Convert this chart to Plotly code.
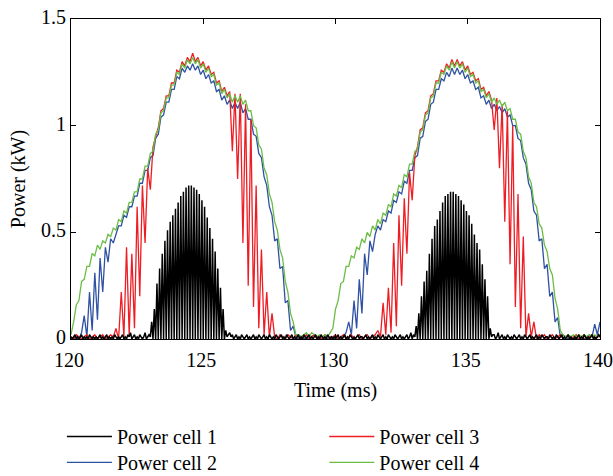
import numpy as np
import plotly.graph_objects as go

# Sampling clocks (ms)
time_ms = np.round(np.linspace(120.0, 140.0, 201), 2)        # 0.1 ms samples for cells 2-4
time_fine_ms = np.round(np.linspace(120.0, 140.0, 401), 2)   # 0.05 ms samples for cell 1

series_names = ["Power cell 1", "Power cell 2", "Power cell 3", "Power cell 4"]
x_ticks = [120, 125, 130, 135, 140]
y_ticks = [0, 0.5, 1, 1.5]
y_tick_labels = ["0", "0.5", "1", "1.5"]

# Power cell 1 (kW), 0.05 ms samples, one row per ms
cell1_kw = [
    0.01,0.00,0.01,0.02,0.00,0.01,0.00,0.01,0.02,0.00,0.01,0.00,0.01,0.00,0.02,0.01,0.00,0.01,0.00,0.01,  # 120
    0.00,0.01,0.02,0.00,0.01,0.00,0.01,0.02,0.00,0.01,0.00,0.01,0.00,0.02,0.01,0.00,0.01,0.00,0.01,0.02,  # 121
    0.00,0.01,0.00,0.02,0.01,0.03,0.00,0.01,0.02,0.00,0.01,0.00,0.02,0.01,0.00,0.01,0.03,0.00,0.01,0.02,  # 122
    0.01,0.08,0.00,0.14,0.00,0.26,0.00,0.33,0.00,0.40,0.00,0.46,0.00,0.51,0.00,0.55,0.00,0.58,0.00,0.61,  # 123
    0.00,0.64,0.00,0.67,0.00,0.69,0.00,0.71,0.00,0.72,0.00,0.72,0.00,0.71,0.00,0.70,0.00,0.68,0.00,0.65,  # 124
    0.00,0.62,0.00,0.57,0.00,0.52,0.00,0.47,0.00,0.41,0.00,0.33,0.00,0.24,0.00,0.14,0.00,0.04,0.01,0.02,  # 125
    0.03,0.01,0.02,0.00,0.01,0.02,0.00,0.01,0.00,0.02,0.01,0.00,0.01,0.02,0.00,0.01,0.00,0.01,0.02,0.00,  # 126
    0.01,0.00,0.02,0.01,0.00,0.01,0.02,0.00,0.01,0.00,0.02,0.01,0.00,0.01,0.00,0.02,0.01,0.00,0.01,0.02,  # 127
    0.00,0.01,0.00,0.02,0.01,0.00,0.01,0.02,0.00,0.01,0.00,0.01,0.02,0.00,0.01,0.00,0.02,0.01,0.00,0.01,  # 128
    0.02,0.00,0.01,0.00,0.01,0.02,0.00,0.01,0.00,0.02,0.01,0.00,0.01,0.00,0.02,0.01,0.00,0.01,0.00,0.01,  # 129
    0.00,0.01,0.02,0.00,0.01,0.00,0.01,0.02,0.00,0.01,0.00,0.02,0.01,0.00,0.01,0.00,0.01,0.02,0.00,0.01,  # 130
    0.01,0.00,0.01,0.02,0.00,0.01,0.00,0.01,0.02,0.00,0.01,0.00,0.02,0.01,0.00,0.01,0.02,0.00,0.01,0.00,  # 131
    0.02,0.01,0.00,0.01,0.00,0.02,0.01,0.00,0.01,0.02,0.00,0.01,0.00,0.01,0.02,0.00,0.01,0.03,0.00,0.02,  # 132
    0.01,0.06,0.00,0.12,0.00,0.20,0.00,0.27,0.00,0.32,0.00,0.40,0.00,0.47,0.00,0.53,0.00,0.56,0.00,0.60,  # 133
    0.00,0.64,0.00,0.67,0.00,0.68,0.00,0.69,0.00,0.69,0.00,0.68,0.00,0.67,0.00,0.65,0.00,0.63,0.00,0.60,  # 134
    0.00,0.58,0.00,0.54,0.00,0.49,0.00,0.45,0.00,0.42,0.00,0.35,0.00,0.28,0.00,0.20,0.00,0.05,0.01,0.02,  # 135
    0.02,0.00,0.01,0.03,0.00,0.01,0.02,0.00,0.01,0.00,0.02,0.01,0.00,0.01,0.00,0.02,0.01,0.00,0.01,0.02,  # 136
    0.00,0.01,0.00,0.02,0.01,0.00,0.01,0.02,0.00,0.01,0.00,0.01,0.02,0.00,0.01,0.00,0.02,0.01,0.00,0.01,  # 137
    0.01,0.00,0.02,0.01,0.00,0.01,0.00,0.02,0.01,0.00,0.01,0.02,0.00,0.01,0.00,0.01,0.02,0.00,0.01,0.00,  # 138
    0.00,0.01,0.00,0.01,0.02,0.00,0.01,0.00,0.02,0.01,0.00,0.01,0.00,0.01,0.02,0.00,0.01,0.00,0.01,0.02,  # 139
    0.01,
]

# Power cell 2 (kW), 0.1 ms samples
cell2_kw = [
    0.01, 0.00, 0.01, 0.00, 0.03, 0.11, 0.01, 0.22, 0.04, 0.31,  # 120
    0.09, 0.38, 0.22, 0.43, 0.36, 0.47, 0.45, 0.49, 0.53, 0.53,  # 121
    0.58, 0.57, 0.62, 0.62, 0.67, 0.67, 0.73, 0.73, 0.79, 0.79,  # 122
    0.85, 0.86, 0.94, 0.96, 1.04, 1.05, 1.11, 1.11, 1.17, 1.17,  # 123
    1.23, 1.22, 1.27, 1.25, 1.28, 1.26, 1.29, 1.26, 1.28, 1.24,  # 124
    1.26, 1.22, 1.24, 1.20, 1.21, 1.16, 1.17, 1.12, 1.14, 1.10,  # 125
    1.12, 1.08, 1.11, 1.08, 1.11, 1.06, 1.08, 1.03, 1.03, 0.96,  # 126
    0.95, 0.87, 0.85, 0.76, 0.72, 0.62, 0.58, 0.46, 0.47, 0.33,  # 127
    0.34, 0.17, 0.18, 0.04, 0.06, 0.01, 0.00, 0.01, 0.00, 0.01,  # 128
    0.00, 0.01, 0.02, 0.00, 0.01, 0.00, 0.01, 0.00, 0.01, 0.01,  # 129
    0.01, 0.00, 0.01, 0.01, 0.03, 0.08, 0.02, 0.18, 0.05, 0.28,  # 130
    0.12, 0.40, 0.30, 0.46, 0.41, 0.49, 0.53, 0.51, 0.56, 0.55,  # 131
    0.60, 0.59, 0.65, 0.64, 0.69, 0.68, 0.74, 0.73, 0.79, 0.79,  # 132
    0.85, 0.86, 0.94, 0.95, 1.02, 1.03, 1.10, 1.11, 1.17, 1.17,  # 133
    1.22, 1.21, 1.25, 1.23, 1.27, 1.24, 1.27, 1.24, 1.26, 1.22,  # 134
    1.24, 1.20, 1.21, 1.17, 1.18, 1.13, 1.14, 1.10, 1.12, 1.08,  # 135
    1.10, 1.07, 1.09, 1.06, 1.08, 1.04, 1.05, 1.00, 1.00, 0.94,  # 136
    0.93, 0.85, 0.82, 0.73, 0.70, 0.60, 0.58, 0.46, 0.47, 0.33,  # 137
    0.35, 0.20, 0.22, 0.08, 0.10, 0.01, 0.02, 0.01, 0.00, 0.01,  # 138
    0.00, 0.01, 0.00, 0.01, 0.00, 0.01, 0.02, 0.01, 0.07, 0.02,  # 139
    0.08,
]

# Power cell 3 (kW), 0.1 ms samples
cell3_kw = [
    0.01, 0.00, 0.02, 0.01, 0.00, 0.01, 0.02, 0.00, 0.01, 0.02,  # 120
    0.00, 0.01, 0.02, 0.00, 0.01, 0.02, 0.01, 0.05, 0.00, 0.22,  # 121
    0.01, 0.43, 0.02, 0.40, 0.05, 0.62, 0.20, 0.72, 0.45, 0.80,  # 122
    0.70, 0.90, 0.95, 0.99, 1.07, 1.08, 1.14, 1.14, 1.20, 1.20,  # 123
    1.26, 1.25, 1.30, 1.28, 1.32, 1.30, 1.34, 1.30, 1.32, 1.28,  # 124
    1.30, 1.26, 1.28, 1.24, 1.25, 1.20, 1.21, 1.16, 1.18, 1.14,  # 125
    1.16, 0.88, 1.15, 0.75, 1.15, 0.45, 1.10, 0.25, 1.03, 0.15,  # 126
    0.72, 0.05, 0.42, 0.02, 0.22, 0.01, 0.12, 0.01, 0.00, 0.02,  # 127
    0.01, 0.00, 0.02, 0.01, 0.00, 0.02, 0.01, 0.00, 0.01, 0.02,  # 128
    0.00, 0.01, 0.02, 0.00, 0.01, 0.00, 0.02, 0.01, 0.00, 0.01,  # 129
    0.02, 0.00, 0.01, 0.02, 0.00, 0.01, 0.02, 0.00, 0.01, 0.02,  # 130
    0.00, 0.01, 0.02, 0.00, 0.01, 0.02, 0.04, 0.01, 0.17, 0.02,  # 131
    0.24, 0.03, 0.45, 0.06, 0.58, 0.25, 0.66, 0.40, 0.78, 0.65,  # 132
    0.86, 0.90, 0.98, 0.99, 1.06, 1.07, 1.14, 1.15, 1.21, 1.21,  # 133
    1.26, 1.25, 1.29, 1.27, 1.31, 1.28, 1.31, 1.28, 1.30, 1.26,  # 134
    1.28, 1.24, 1.25, 1.21, 1.22, 1.17, 1.18, 1.14, 1.16, 1.12,  # 135
    0.98, 1.13, 0.80, 1.10, 0.55, 1.07, 0.35, 1.00, 0.15, 0.68,  # 136
    0.05, 0.48, 0.01, 0.12, 0.01, 0.08, 0.00, 0.02, 0.01, 0.02,  # 137
    0.00, 0.01, 0.02, 0.00, 0.01, 0.02, 0.00, 0.01, 0.02, 0.00,  # 138
    0.01, 0.02, 0.00, 0.01, 0.02, 0.00, 0.01, 0.02, 0.00, 0.01,  # 139
    0.01,
]

# Power cell 4 (kW), 0.1 ms samples
cell4_kw = [
    0.02, 0.08, 0.16, 0.18, 0.27, 0.28, 0.34, 0.34, 0.40, 0.39,  # 120
    0.44, 0.42, 0.46, 0.45, 0.49, 0.48, 0.52, 0.51, 0.56, 0.55,  # 121
    0.60, 0.59, 0.64, 0.64, 0.69, 0.69, 0.75, 0.75, 0.81, 0.81,  # 122
    0.87, 0.88, 0.96, 0.98, 1.06, 1.07, 1.13, 1.13, 1.19, 1.19,  # 123
    1.25, 1.24, 1.29, 1.27, 1.31, 1.29, 1.32, 1.29, 1.31, 1.27,  # 124
    1.29, 1.25, 1.27, 1.23, 1.24, 1.19, 1.20, 1.15, 1.17, 1.13,  # 125
    1.15, 1.11, 1.14, 1.11, 1.14, 1.10, 1.12, 1.07, 1.07, 1.00,  # 126
    0.99, 0.91, 0.89, 0.80, 0.77, 0.68, 0.64, 0.55, 0.51, 0.42,  # 127
    0.38, 0.27, 0.22, 0.12, 0.08, 0.02, 0.02, 0.01, 0.02, 0.03,  # 128
    0.01, 0.03, 0.02, 0.01, 0.02, 0.01, 0.02, 0.01, 0.03, 0.05,  # 129
    0.14, 0.18, 0.26, 0.27, 0.34, 0.34, 0.39, 0.38, 0.43, 0.42,  # 130
    0.47, 0.45, 0.50, 0.48, 0.53, 0.51, 0.56, 0.54, 0.59, 0.58,  # 131
    0.63, 0.62, 0.68, 0.67, 0.72, 0.71, 0.77, 0.76, 0.82, 0.82,  # 132
    0.88, 0.89, 0.97, 0.98, 1.05, 1.06, 1.13, 1.14, 1.20, 1.20,  # 133
    1.25, 1.24, 1.28, 1.26, 1.30, 1.27, 1.30, 1.27, 1.29, 1.25,  # 134
    1.27, 1.23, 1.24, 1.20, 1.21, 1.16, 1.17, 1.13, 1.15, 1.11,  # 135
    1.13, 1.10, 1.12, 1.09, 1.11, 1.07, 1.08, 1.03, 1.03, 0.97,  # 136
    0.96, 0.88, 0.85, 0.76, 0.73, 0.64, 0.62, 0.54, 0.52, 0.44,  # 137
    0.41, 0.33, 0.30, 0.19, 0.14, 0.04, 0.02, 0.01, 0.02, 0.01,  # 138
    0.02, 0.01, 0.02, 0.01, 0.02, 0.01, 0.02, 0.01, 0.02, 0.01,  # 139
    0.02,
]

assert len(cell1_kw) == len(time_fine_ms), len(cell1_kw)
for s in (cell2_kw, cell3_kw, cell4_kw):
    assert len(s) == len(time_ms), len(s)

colors = {"Power cell 1": "#000000", "Power cell 2": "#2f51a3",
          "Power cell 3": "#ee1d24", "Power cell 4": "#6bbd45"}
widths = {"Power cell 1": 1.5, "Power cell 2": 1.3, "Power cell 3": 1.3, "Power cell 4": 1.3}
# one single-entry legend per item, laid out as a 2x2 block
legend_of = {"Power cell 1": "legend", "Power cell 2": "legend2",
             "Power cell 3": "legend3", "Power cell 4": "legend4"}
series = {
    "Power cell 1": (time_fine_ms, cell1_kw),
    "Power cell 2": (time_ms, cell2_kw),
    "Power cell 3": (time_ms, cell3_kw),
    "Power cell 4": (time_ms, cell4_kw),
}

fig = go.Figure()
for name in ["Power cell 2", "Power cell 3", "Power cell 4", "Power cell 1"]:
    t, p = series[name]
    fig.add_trace(go.Scatter(
        x=t, y=p, mode="lines", name=name, legend=legend_of[name],
        line=dict(color=colors[name], width=widths[name]),
    ))

axis_common = dict(showline=True, linecolor="black", linewidth=1, mirror="ticks",
                   ticks="inside", ticklen=5, tickcolor="black", showgrid=False,
                   zeroline=False, automargin=False,
                   tickfont=dict(family="Liberation Serif", size=20, color="black"))

legend_common = dict(orientation="h", xref="container", yref="container",
                     xanchor="left", yanchor="top", itemwidth=45,
                     bgcolor="rgba(0,0,0,0)",
                     font=dict(family="Liberation Serif", size=20, color="black"))

col1_x, col2_x = 0.101, 0.529
row1_y, row2_y = 0.124, 0.0694

fig.update_layout(
    width=613, height=476,
    margin=dict(l=71, r=13, t=19, b=137),
    paper_bgcolor="white", plot_bgcolor="white",
    font=dict(family="Liberation Serif", size=20, color="black"),
    xaxis=dict(range=[120, 140], tickvals=x_ticks, ticklabeloverflow="allow",
               ticklabelstandoff=3, ticklabelshift=-2,
               title=dict(text="Time (ms)", standoff=12,
                          font=dict(family="Liberation Serif", size=20)),
               **axis_common),
    yaxis=dict(range=[0, 1.5], tickvals=y_ticks, ticktext=y_tick_labels,
               ticklabelshift=-2,
               title=dict(text="Power (kW)", standoff=10,
                          font=dict(family="Liberation Serif", size=20)),
               **axis_common),
    legend=dict(x=col1_x, y=row1_y, **legend_common),
    legend2=dict(x=col1_x, y=row2_y, **legend_common),
    legend3=dict(x=col2_x, y=row1_y, **legend_common),
    legend4=dict(x=col2_x, y=row2_y, **legend_common),
    showlegend=True,
)

fig.write_html("out.html", post_script="document.body.style.margin='0';",
               config={"displayModeBar": False})
